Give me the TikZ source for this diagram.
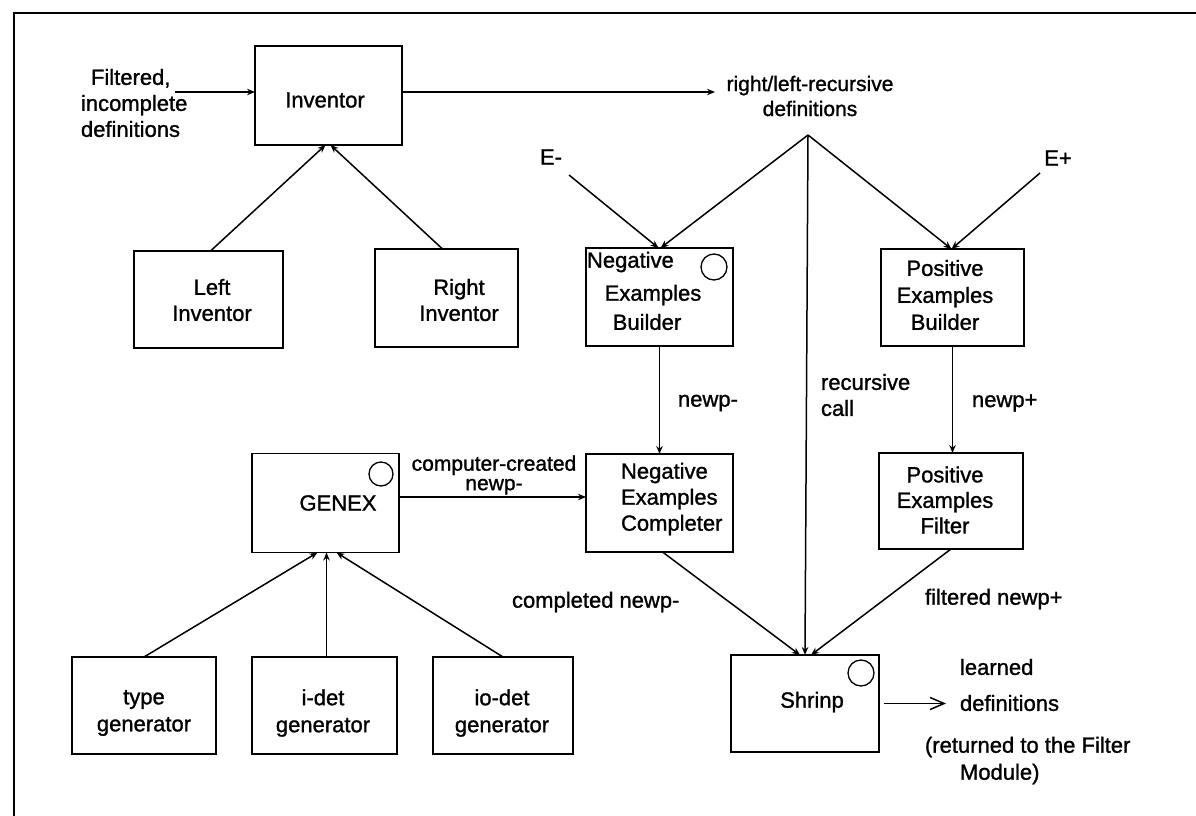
\documentclass[tikz,border=0pt]{standalone}
\usepackage{fontspec}
\setmainfont{Liberation Sans}[FakeBold=1.2]
\usetikzlibrary{arrows.meta}
\begin{document}
\begin{tikzpicture}[x=1pt,y=-1pt,
  every node/.style={font=\fontsize{22}{26}\selectfont, inner sep=0pt, outer sep=0pt},
  blk/.style={draw, line width=1.6pt},
  lbl/.style={align=center},
  flow/.style={line width=1.5pt, -{Stealth[length=8pt,width=6.5pt]}},
  busy/.style={draw, circle, line width=1.3pt, minimum size=26pt},
  frameline/.style={line width=2.6pt}]
\useasboundingbox (0,0) rectangle (1196,816);

% frame
\draw[frameline] (14,816) -- (14,13) -- (1196,13);

% boxes
\node[blk, minimum width=147pt, minimum height=99pt] (inv)   at (328.5,95.5) {};
\node[blk, minimum width=149pt, minimum height=97pt] (linv)  at (208.5,299.5) {};
\node[blk, minimum width=143pt, minimum height=98pt] (rinv)  at (446.5,298) {};
\node[blk, minimum width=147pt, minimum height=98pt] (nbld)  at (659.5,297) {};
\node[blk, minimum width=143pt, minimum height=97pt] (pbld)  at (952.5,297.5) {};
\node[blk, minimum width=147pt, minimum height=99pt] (genex) at (325.5,503) {};
\node[blk, minimum width=147pt, minimum height=98pt] (ncmp)  at (659.5,503) {};
\node[blk, minimum width=144pt, minimum height=96pt] (pflt)  at (951,501) {};
\node[blk, minimum width=148pt, minimum height=97pt] (shr)   at (805,703.5) {};
\node[blk, minimum width=144pt, minimum height=97pt] (tgen)  at (144,705.5) {};
\node[blk, minimum width=145pt, minimum height=97pt] (igen)  at (324.5,705.5) {};
\node[blk, minimum width=140pt, minimum height=97pt] (iogen) at (503,705.5) {};

% activity markers
\node[busy] (nbldc)  at (714,267) {};
\node[busy, minimum size=24pt] (genexc) at (381,474) {};
\node[busy] (shrc)   at (861,673) {};

% box texts
\node at (325,100) (tinv) {Inventor};
\node[lbl] at (212,300) (tlinv) {Left\\Inventor};
\node[lbl] at (459,300) (trinv) {Right\\Inventor};
\node[anchor=west] at (587,262) (tnb1) {Negative};
\node at (653,295) (tnb2) {Examples};
\node at (647,322) (tnb3) {Builder};
\node[lbl, font=\fontsize{22}{27}\selectfont] at (945,295) (tpb) {Positive\\Examples\\Builder};
\node at (338,503) (tgx) {GENEX};
\node[align=left, font=\fontsize{22}{26}\selectfont, anchor=west] at (621,499) (tnc) {Negative\\Examples\\Completer};
\node[lbl, font=\fontsize{22}{25.5}\selectfont] at (945,500) (tpf) {Positive\\Examples\\Filter};
\node at (812,702) (tshr) {Shrinp};
\node[lbl, font=\fontsize{22}{27}\selectfont] at (144,713) (ttg) {type\\generator};
\node[lbl, font=\fontsize{22}{27}\selectfont] at (323,713) (tig) {i-det\\generator};
\node[lbl, font=\fontsize{22}{27}\selectfont] at (502,713) (tiog) {io-det\\generator};

% free labels
\node[align=left, anchor=west] at (81,103) (fin) {\hspace*{10pt}Filtered,\\incomplete\\definitions};
\node[lbl, font=\fontsize{21}{25}\selectfont] at (810,96) (rl) {right/left-recursive\\definitions};
\node at (551,157) (em) {E-};
\node at (1058,158) (ep) {E+};
\node[anchor=west] at (678,403) (nm) {newp-};
\node[anchor=west] at (972,403) (np) {newp+};
\node[align=left, anchor=west] at (821,395) (rc) {recursive\\call};
\node[lbl, font=\fontsize{21}{19.5}\selectfont] at (494,475) (cc) {computer-created\\newp-};
\node[anchor=west] at (512,602) (cn) {completed\hspace{6pt}newp-};
\node[anchor=west] at (925,599) (fn) {filtered newp+};
\node[anchor=west] at (960,667) (ld1) {learned};
\node[anchor=west] at (960,703) (ld2) {definitions};
\node[anchor=west] at (925,747) (rt1) {(returned to the Filter};
\node[anchor=west] at (960,774) (rt2) {Module)};

% connector end points
\coordinate (finend) at (175,92);
\coordinate (rlend) at (715,92);
\coordinate (apex) at (808,135);
\coordinate (emst) at (569,175);
\coordinate (epst) at (1040,173);

% connectors
\draw[flow] (finend) -- (finend -| inv.west);
\draw[flow] (inv.east |- rlend) -- (rlend);
\draw[flow] ([xshift=2pt]linv.north) -- ([xshift=-3pt]inv.south);
\draw[flow] ([xshift=-4pt]rinv.north) -- ([xshift=2pt]inv.south);
\draw[flow] (apex) -- ([xshift=1pt]nbld.north);
\draw[flow] (emst) -- ([xshift=-1pt]nbld.north);
\draw[flow] (apex) -- ([xshift=-1pt]pbld.north);
\draw[flow] (epst) -- ([xshift=-1pt]pbld.north);
\draw[flow] (apex) -- (shr.north);
\draw[flow] (nbld.south) -- (nbld.south |- ncmp.north);
\draw[flow] (pbld.south) -- (pbld.south |- pflt.north);
\draw[flow] ([yshift=6pt]genex.east) -- ([yshift=6pt]genex.east -| ncmp.west);
\draw[flow] ([xshift=3pt]ncmp.south) -- ([xshift=-5pt]shr.north);
\draw[flow] (pflt.south) -- ([xshift=6pt]shr.north);
\draw[line width=1.5pt, -{Straight Barb[length=14pt,width=12pt]}] ([xshift=5pt]shr.east) -- ([xshift=-14pt]shr.east -| ld2.west);
\draw[flow] (tgen.north) -- ([xshift=-8pt]genex.south);
\draw[flow] ([xshift=2pt]igen.north) -- ([xshift=2pt]igen.north |- genex.south);
\draw[flow] (iogen.north) -- ([xshift=11pt]genex.south);
\end{tikzpicture}
\end{document}
